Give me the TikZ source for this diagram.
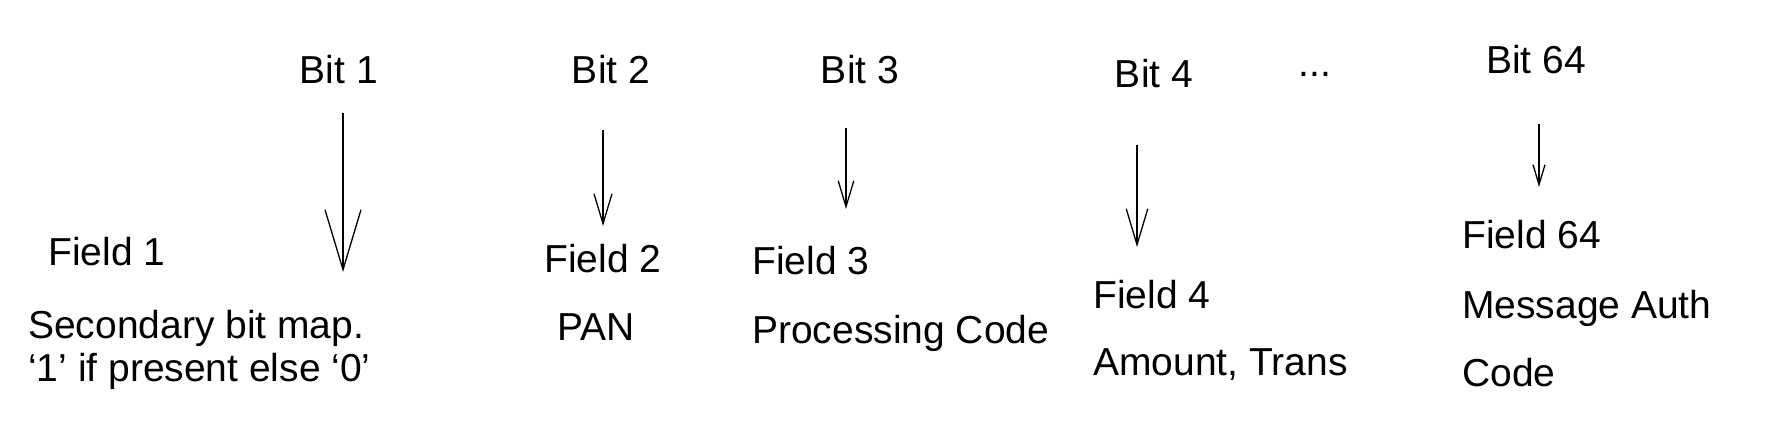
\documentclass[tikz,border=0pt]{standalone}
\usepackage{fontspec}
\setmainfont{Liberation Sans}
\usetikzlibrary{arrows.meta}
\begin{document}
\begin{tikzpicture}[x=1pt,y=-1pt,
  lbl/.style={font=\fontsize{39}{44}\selectfont,inner sep=0pt},
  fld/.style={lbl,anchor=west},
  bitarrow/.style={-{Straight Barb[length=#1,width=#1*0.6]},line width=1.3pt},
  bitarrow/.default=14pt]
\useasboundingbox (0,0) rectangle (1774,446);

% bit labels
\node[lbl] (bit1) at (339,70) {Bit 1};
\node[lbl] (bit2) at (611,70) {Bit 2};
\node[lbl] (bit3) at (860,70) {Bit 3};
\node[lbl] (bit4) at (1154,74) {Bit 4};
\node[lbl] (dots) at (1315,74) {...};
\node[lbl] (bit64) at (1536,60) {Bit 64};

% arrows
\coordinate (a1s) at (343,113); \coordinate (a1e) at (343,272);
\coordinate (a2s) at (603,130); \coordinate (a2e) at (603,226);
\coordinate (a3s) at (846,128); \coordinate (a3e) at (846,209);
\coordinate (a4s) at (1137,145); \coordinate (a4e) at (1137,247);
\coordinate (a64s) at (1539,124); \coordinate (a64e) at (1539,187);
\draw[bitarrow=60pt] (a1s) -- (a1e);
\draw[bitarrow=30pt] (a2s) -- (a2e);
\draw[bitarrow=26pt] (a3s) -- (a3e);
\draw[bitarrow=36pt] (a4s) -- (a4e);
\draw[bitarrow=20pt] (a64s) -- (a64e);

% fields
\node[fld] (field1) at (48,252) {Field 1};
\node[fld] (field2) at (544,259) {Field 2};
\node[fld] (field3) at (752,261) {Field 3};
\node[fld] (field4) at (1093,295) {Field 4};
\node[fld] (field64) at (1462,235) {Field 64};

% descriptions
\node[fld] (desc1a) at (28,328) {Secondary bit map.};
\node[fld] (desc1b) at (28,371) {‘1’ if present else ‘0’};
\node[fld] (desc2) at (557,327) {PAN};
\node[fld] (desc3) at (752,333) {Processing Code};
\node[fld] (desc4) at (1093,365) {Amount, Trans};
\node[fld] (desc64a) at (1462,308) {Message Auth};
\node[fld] (desc64b) at (1462,373) {Code};
\end{tikzpicture}
\end{document}
